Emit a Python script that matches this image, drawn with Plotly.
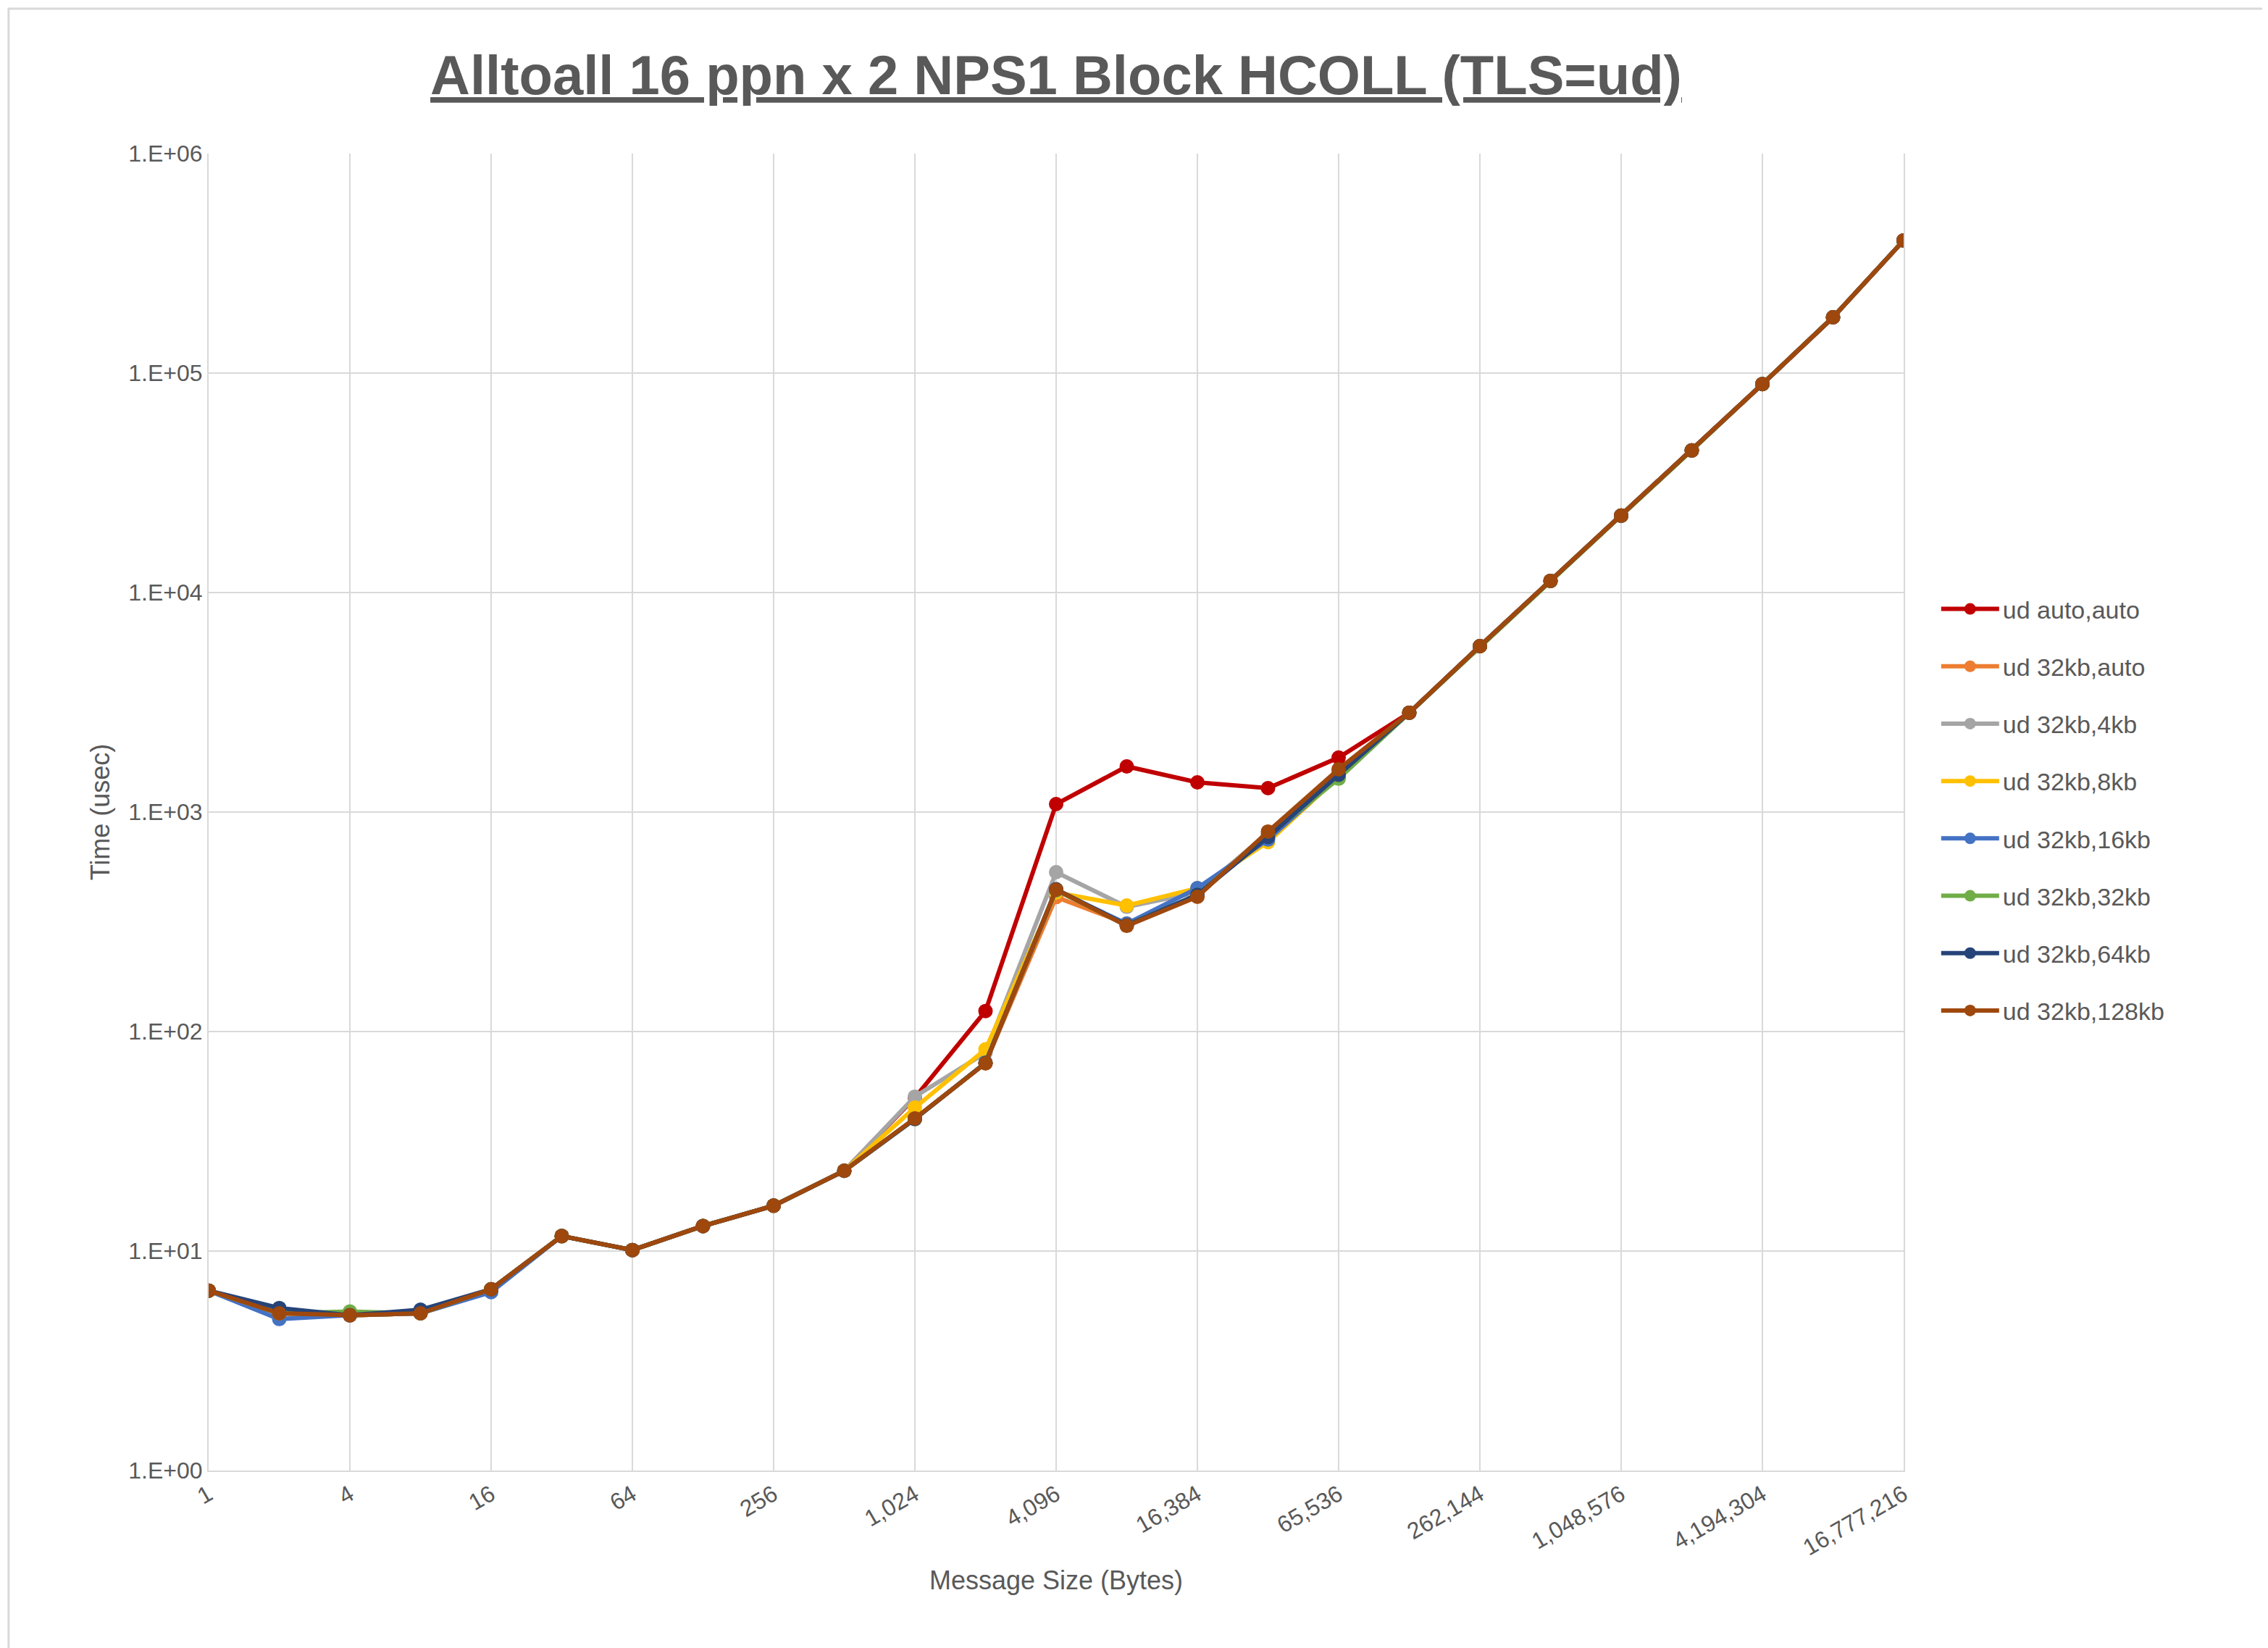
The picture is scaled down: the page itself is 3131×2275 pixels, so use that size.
import plotly.graph_objects as go

sizes = [2 ** i for i in range(25)]

common_low = [6.6, 5.2, 5.1, 5.2, 6.7, 11.7, 10.1, 13.0, 16.1, 23.2]
common_high = [2834, 5700, 11300, 22400, 44400, 89100, 179500, 402000]

# values from 1,024 to 65,536 bytes per series
mid = {
    "ud auto,auto":    [50, 124, 1087, 1614, 1366, 1285, 1770],
    "ud 32kb,auto":    [40, 72, 410, 310, 415, 790, 1520],
    "ud 32kb,4kb":     [50.5, 80, 532, 370, 430, 800, 1500],
    "ud 32kb,8kb":     [45, 83, 430, 375, 450, 730, 1450],
    "ud 32kb,16kb":    [40, 72, 440, 310, 450, 750, 1450],
    "ud 32kb,32kb":    [40, 72, 440, 305, 420, 780, 1420],
    "ud 32kb,64kb":    [40, 72, 445, 305, 420, 770, 1480],
    "ud 32kb,128kb":   [40.2, 71.6, 443, 303, 411, 815, 1567],
}
low_overrides = {
    "ud 32kb,16kb": {1: 4.9, 4: 6.5},
    "ud 32kb,32kb": {2: 5.3},
    "ud 32kb,64kb": {1: 5.5, 3: 5.4},
}
colors = ["#C00000", "#ED7D31", "#A5A5A5", "#FFC000", "#4472C4", "#70AD47", "#264478", "#9E480E"]

fig = go.Figure()
for (name, m), c in zip(mid.items(), colors):
    low = list(common_low)
    for i, v in low_overrides.get(name, {}).items():
        low[i] = v
    y = low + m + common_high
    fig.add_trace(go.Scatter(x=sizes, y=y, name=name, legendgroup=name, mode="lines+markers",
                             line=dict(color=c, width=6), marker=dict(color=c, size=20)))

xt = [4 ** i for i in range(13)]
yt = [10 ** i for i in range(7)]
font = "Liberation Sans"
fig.update_layout(
    width=3131, height=2275, paper_bgcolor="white", plot_bgcolor="white",
    margin=dict(l=280, r=511, t=204, b=253),
    font=dict(family=font, size=32, color="#595959"),
    title=dict(text="<b><u>Alltoall 16 ppn x 2 NPS1 Block HCOLL (TLS=ud)</u></b>",
               x=0.5, xref="paper", y=0.958, yanchor="middle", font=dict(size=76, color="#595959")),
    legend=dict(x=1.02, y=0.67, yanchor="top", font=dict(size=34), tracegroupgap=32,
                itemwidth=80),
    shapes=[dict(type="rect", xref="paper", yref="paper", x0=-0.118, x1=1.2167, y0=-0.137, y1=1.11,
                 line=dict(color="#D9D9D9", width=3))],
)
fig.update_xaxes(type="log", range=[0, 24 * 0.30103], tickvals=xt,
                 ticktext=[f"{v:,}" for v in xt], tickangle=-30,
                 showgrid=True, gridcolor="#D9D9D9", gridwidth=2, showline=True, linecolor="#D9D9D9",
                 linewidth=2, title=dict(text="Message Size (Bytes)", font=dict(size=36)), zeroline=False)
fig.update_yaxes(type="log", range=[0, 6], tickvals=yt,
                 ticktext=[f"1.E+{i:02d}" for i in range(7)],
                 showgrid=True, gridcolor="#D9D9D9", gridwidth=2, showline=True, linecolor="#D9D9D9",
                 linewidth=2, mirror=True, title=dict(text="Time (usec)", font=dict(size=36)), zeroline=False)
fig.write_html("out.html")
